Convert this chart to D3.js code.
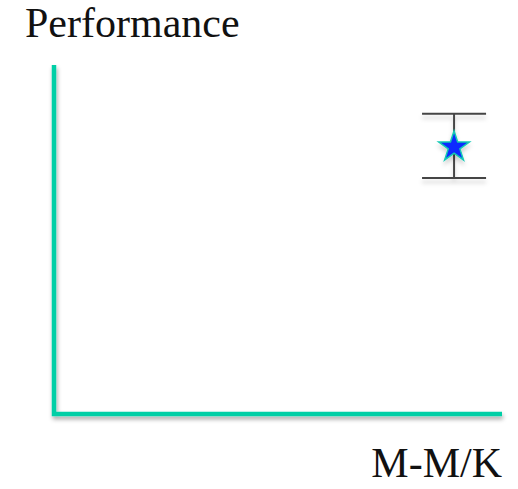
<!DOCTYPE html>
<html><head><meta charset="utf-8">
<script src="https://cdn.jsdelivr.net/npm/d3@7"></script>
</head><body style="margin:0">
<script>
const xLabel = "M-M/K";
const yLabel = "Performance";
const pointsX = [0.893];
const pointsY = [0.768];
const pointsErr = [0.092];

const W = 518, H = 489;
const svg = d3.select("body").append("svg").attr("width", W).attr("height", H)
  .style("display","block").attr("font-family","Liberation Serif");

const x = d3.scaleLinear().domain([0,1]).range([54, 502]);
const y = d3.scaleLinear().domain([0,1]).range([414, 65]);

svg.append("text").attr("x",25).attr("y",37).text(yLabel)
  .style("font-family",'"Liberation Serif"').attr("font-size",42).attr("fill","#111");
svg.append("text").attr("x",502).attr("y",477).attr("text-anchor","end").text(xLabel)
  .style("font-family",'"Liberation Serif"').attr("font-size",42).attr("fill","#111");

const defs = svg.append("defs");
const f = defs.append("filter").attr("id","sh").attr("x","-20%").attr("y","-20%").attr("width","140%").attr("height","160%");
f.append("feDropShadow").attr("dx",1).attr("dy",3).attr("stdDeviation",2).attr("flood-color","#000").attr("flood-opacity",0.35);
const f2 = defs.append("filter").attr("id","sh2").attr("x","-50%").attr("y","-50%").attr("width","200%").attr("height","200%");
f2.append("feDropShadow").attr("dx",0).attr("dy",4).attr("stdDeviation",2).attr("flood-color","#000").attr("flood-opacity",0.18);

const axisColor = "#00CFA6";
svg.append("path")
  .attr("d", `M${x(0)},${y(1)} L${x(0)},${y(0)} L${x(1)},${y(0)}`)
  .attr("fill","none").attr("stroke",axisColor).attr("stroke-width",4.5)
  .attr("stroke-linejoin","miter").attr("filter","url(#sh)");

const data = pointsX.map((v,i)=>({x:v,y:pointsY[i],e:pointsErr[i]}));
const g = svg.append("g");
data.forEach(d=>{
  const eg = g.append("g").attr("filter","url(#sh2)");
  eg.append("line").attr("x1",x(d.x)).attr("x2",x(d.x)).attr("y1",y(d.y+d.e)).attr("y2",y(d.y-d.e))
    .attr("stroke","#444").attr("stroke-width",2);
  [d.y+d.e, d.y-d.e].forEach(v=>{
    eg.append("line").attr("x1",x(d.x)-32).attr("x2",x(d.x)+32).attr("y1",y(v)).attr("y2",y(v))
      .attr("stroke","#444").attr("stroke-width",2);
  });
  g.append("path").attr("d", d3.symbol().type(d3.symbolStar).size(290)())
    .attr("transform",`translate(${x(d.x)},${y(d.y)+1})`)
    .attr("fill","#0A2BFF").attr("stroke","#14C9B4").attr("stroke-width",1.5)
    .attr("stroke-linejoin","miter").attr("filter","url(#sh2)");
});
</script>
</body></html>
